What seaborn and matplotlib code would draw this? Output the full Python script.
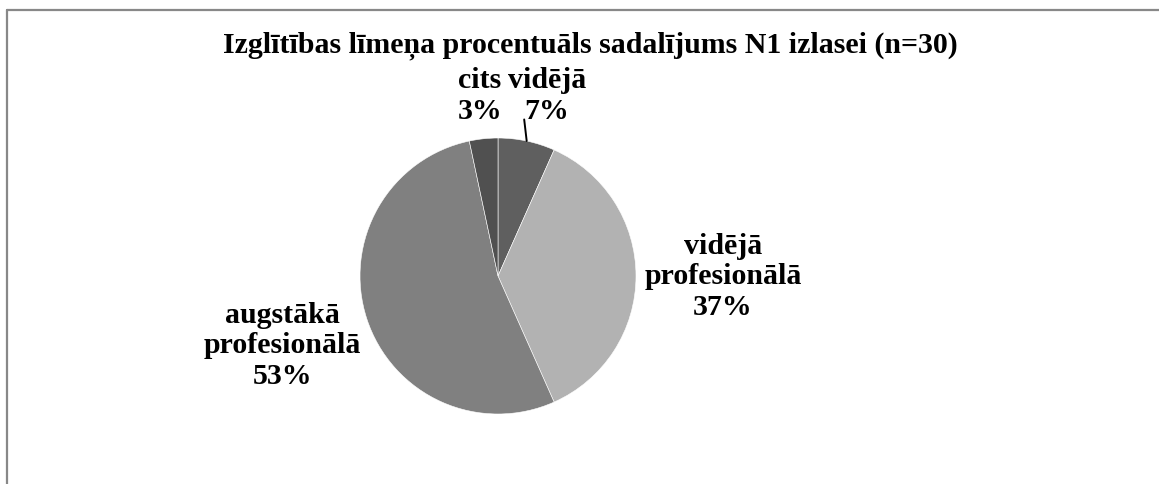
import numpy as np
import matplotlib
matplotlib.use("Agg")
import matplotlib.pyplot as plt
from matplotlib.lines import Line2D
import seaborn as sns

# dati (n=30)
categories = ["vidējā", "vidējā\nprofesionālā", "augstākā\nprofesionālā", "cits"]
counts = [2, 11, 16, 1]
colors = ["#5f5f5f", "#b2b2b2", "#808080", "#505050"]
title = "Izglītības līmeņa procentuāls sadalījums N1 izlasei (n=30)"

sns.set_style("white")
plt.rcParams["font.family"] = ["Liberation Serif", "DejaVu Serif"]
plt.rcParams["text.color"] = "black"

W, H = 1159, 485
fig = plt.figure(figsize=(W / 100, H / 100), dpi=100)
ax = fig.add_axes([0, 0, 1, 1])

total = sum(counts)
pct = [round(c / total * 100) for c in counts]
labels = [f"{c}\n{p}%" for c, p in zip(categories, pct)]

wedges, _ = ax.pie(counts, colors=colors, startangle=90, counterclock=False,
                   radius=1.0, wedgeprops=dict(edgecolor="white", linewidth=0.4))

# label positions, pie radius units
manual = {0: (0.355, 1.31), 1: (1.63, 0.0), 2: (-1.56, -0.5), 3: (-0.13, 1.31)}
for i, lab in enumerate(labels):
    x, y = manual[i]
    ax.text(x, y, lab, ha="center", va="center", fontsize=21.5,
            fontweight="bold", linespacing=1.18, color="black")

# leader line for the small "vidējā" slice
w0 = wedges[0]
mid = np.deg2rad((w0.theta1 + w0.theta2) / 2)
ax.plot([1.15 * np.cos(mid + np.deg2rad(2.5)), np.cos(mid)],
        [1.15 * np.sin(mid + np.deg2rad(2.5)), np.sin(mid)],
        color="black", lw=1.4)

cx, cy, r = 498, 485 - 277, 138
ax.set_xlim(-cx / r, (W - cx) / r)
ax.set_ylim(-cy / r, (H - cy) / r)
ax.set_aspect("auto")
ax.axis("off")

fig.text(590 / W, 1 - 46 / H, title, ha="center", va="center",
         fontsize=21.5, fontweight="bold", color="black")

# frame (top + left)
fig.add_artist(Line2D([7 / W, 1], [1 - 11 / H, 1 - 11 / H], color="#888888", lw=1.6))
fig.add_artist(Line2D([7 / W, 7 / W], [0, 1 - 11 / H], color="#888888", lw=1.6))

fig.savefig("out.png", dpi=100, facecolor="white")
